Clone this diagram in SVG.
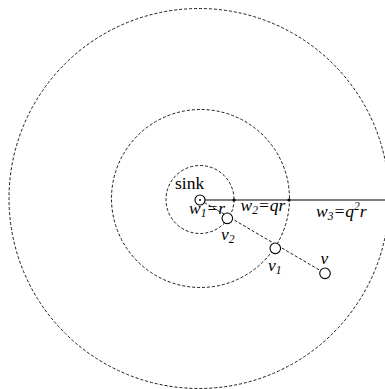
<svg xmlns="http://www.w3.org/2000/svg" width="385" height="389" viewBox="0 0 385 389">
<style>
.ring{fill:none;stroke:#000;stroke-width:0.9;stroke-dasharray:3 2}
.node{fill:#fff;stroke:#000;stroke-width:1.1}
.lbl{font-family:"Liberation Serif","Times New Roman",serif;font-size:17.5px;fill:#000}
.it{font-style:italic}
.sub{font-size:11.5px}
</style>
<rect width="385" height="389" fill="#fff"/>
<g id="rings">
<circle class="ring" cx="200" cy="199.5" r="34"/>
<circle class="ring" cx="200.5" cy="198.5" r="89"/>
<circle class="ring" cx="199" cy="198.5" r="190"/>
</g>
<g id="connectors">
<line x1="200" y1="200" x2="385" y2="200" stroke="#555" stroke-width="1.6"/>
<line x1="200" y1="200" x2="325" y2="273.3" stroke="#000" stroke-width="0.9" stroke-dasharray="3 2"/>
<circle cx="234" cy="200" r="1.6" fill="#000"/>
<circle cx="289" cy="200" r="1.6" fill="#000"/>
</g>
<g id="sink">
<circle class="node" cx="200" cy="200" r="5"/>
<circle cx="200" cy="200" r="1" fill="#000"/>
<text class="lbl" x="175" y="188.5">sink</text>
</g>
<g id="v2">
<circle class="node" cx="227.3" cy="218.3" r="5.3"/>
<text class="lbl it" x="221" y="240">v<tspan class="sub" dy="3">2</tspan></text>
</g>
<g id="v1">
<circle class="node" cx="275.3" cy="248.3" r="5.3"/>
<text class="lbl it" x="268" y="271">v<tspan class="sub" dy="3">1</tspan></text>
</g>
<g id="v">
<circle class="node" cx="325" cy="273.3" r="5.3"/>
<text class="lbl it" x="320.5" y="264">v</text>
</g>
<g id="labels">
<text class="lbl it" x="189" y="213.5">w<tspan class="sub" dy="3">1</tspan><tspan dy="-3">=r</tspan></text>
<text class="lbl it" x="240.5" y="211">w<tspan class="sub" dy="3">2</tspan><tspan dy="-3">=qr</tspan></text>
<text class="lbl it" x="316" y="217">w<tspan class="sub" dy="3">3</tspan><tspan dy="-3">=q</tspan><tspan class="sub" dy="-7">2</tspan><tspan dy="7">r</tspan></text>
</g>
</svg>
